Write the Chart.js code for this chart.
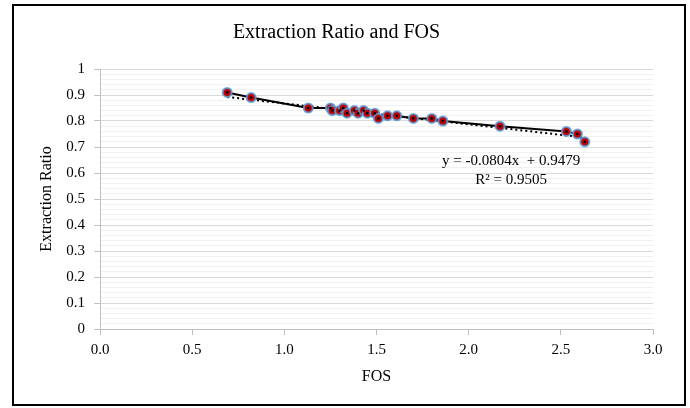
<!DOCTYPE html>
<html>
<head>
<meta charset="utf-8">
<script src="https://cdn.jsdelivr.net/npm/chart.js@4/dist/chart.umd.min.js"></script>
<style>
    html, body { margin: 0; padding: 0; background: #fff; }
    #wrap { width: 690px; height: 408px; }
</style>
</head>
<body>
<div id="wrap"><canvas id="fosChart" width="690" height="408"></canvas></div>
<script>
// Data
const fosValues = [0.69, 0.82, 1.13, 1.25, 1.26, 1.30, 1.32, 1.34, 1.38, 1.40, 1.43, 1.45, 1.49, 1.51, 1.56, 1.61, 1.70, 1.80, 1.86, 2.17, 2.53, 2.59, 2.63];
const ratioValues = [0.91, 0.89, 0.85, 0.85, 0.84, 0.84, 0.85, 0.83, 0.84, 0.83, 0.84, 0.83, 0.83, 0.81, 0.82, 0.82, 0.81, 0.81, 0.80, 0.78, 0.76, 0.75, 0.72];
const xTicks = [0, 0.5, 1, 1.5, 2, 2.5, 3];
const yTicks = [0, 0.1, 0.2, 0.3, 0.4, 0.5, 0.6, 0.7, 0.8, 0.9, 1];

// Linear trendline as printed on the chart
const trendSlope = -0.0804;
const trendIntercept = 0.9479;
const trendR2 = 0.9505;

const SERIF = "'Liberation Serif', 'Times New Roman', serif";

const points = fosValues.map((x, i) => ({ x: x, y: ratioValues[i] }));
const xMin = Math.min(...fosValues);
const xMax = Math.max(...fosValues);
const trendPoints = [
    { x: xMin, y: trendSlope * xMin + trendIntercept },
    { x: xMax, y: trendSlope * xMax + trendIntercept }
];

function isMajor(v) {
    return Math.abs(v * 10 - Math.round(v * 10)) < 1e-6;
}

// Frame around the whole chart + trendline equation text
const framePlugin = {
    id: 'frame',
    afterDraw(chart) {
        const c = chart.ctx;
        c.save();
        c.strokeStyle = '#000';
        c.lineWidth = 2;
        c.strokeRect(13, 5, 672, 400);

        const xs = chart.scales.x, ys = chart.scales.y;
        const tx = xs.getPixelForValue(2.23);
        const ty = ys.getPixelForValue(0.645);
        c.fillStyle = '#000';
        c.font = '15px ' + SERIF;
        c.textAlign = 'center';
        c.textBaseline = 'middle';
        c.fillText('y = ' + trendSlope + 'x  + ' + trendIntercept, tx, ty);
        c.fillText('R² = ' + trendR2, tx, ty + 19);
        c.restore();
    }
};

new Chart(document.getElementById('fosChart'), {
    type: 'scatter',
    data: {
        datasets: [
            {
                label: 'centers',
                data: points,
                showLine: false,
                pointRadius: 1.3,
                pointBackgroundColor: '#000',
                pointBorderWidth: 0,
                order: 0
            },
            {
                label: 'Extraction Ratio',
                data: points,
                showLine: false,
                pointRadius: 4.5,
                pointBackgroundColor: '#c00000',
                pointBorderColor: 'rgba(91, 155, 213, 0.85)',
                pointBorderWidth: 2,
                order: 1
            },
            {
                label: 'line',
                data: points,
                showLine: true,
                borderColor: '#000',
                borderWidth: 2,
                pointRadius: 0,
                order: 2
            },
            {
                label: 'trend',
                data: trendPoints,
                showLine: true,
                borderColor: '#000',
                borderWidth: 2,
                borderDash: [2, 3],
                pointRadius: 0,
                order: 3
            }
        ]
    },
    options: {
        responsive: false,
        animation: false,
        layout: {
            padding: { left: 20, right: 37, top: 10, bottom: 19 }
        },
        plugins: {
            legend: { display: false },
            tooltip: { enabled: false },
            title: {
                display: true,
                text: 'Extraction Ratio and FOS',
                color: '#000',
                font: { family: SERIF, size: 20, weight: 'normal' },
                padding: { top: 11, bottom: 24 }
            }
        },
        scales: {
            x: {
                type: 'linear',
                min: 0,
                max: 3,
                afterBuildTicks(scale) {
                    scale.ticks = xTicks.map(v => ({ value: v }));
                },
                afterFit(scale) { scale.height = 60; },
                ticks: {
                    color: '#000',
                    font: { family: SERIF, size: 15 },
                    padding: 6,
                    callback: v => Number(v).toFixed(1)
                },
                grid: {
                    drawOnChartArea: false,
                    drawTicks: true,
                    tickLength: 6,
                    tickColor: '#bfbfbf'
                },
                border: { color: '#bfbfbf', width: 1 },
                title: {
                    display: true,
                    text: 'FOS',
                    color: '#000',
                    font: { family: SERIF, size: 16 },
                    padding: { top: 0, bottom: 3 }
                }
            },
            y: {
                type: 'linear',
                min: 0,
                max: 1,
                afterBuildTicks(scale) {
                    const list = [];
                    for (let i = 0; i < yTicks.length - 1; i++) {
                        for (let k = 0; k < 5; k++) {
                            list.push({ value: yTicks[i] + (yTicks[i + 1] - yTicks[i]) * k / 5 });
                        }
                    }
                    list.push({ value: yTicks[yTicks.length - 1] });
                    scale.ticks = list;
                },
                afterFit(scale) { scale.width = 80; },
                ticks: {
                    color: '#000',
                    font: { family: SERIF, size: 15 },
                    padding: 9,
                    autoSkip: false,
                    callback: v => {
                        if (!isMajor(v)) return '';
                        const r = Math.round(v * 10) / 10;
                        return (r === 0 || r === 1) ? String(r) : r.toFixed(1);
                    }
                },
                grid: {
                    tickLength: 6,
                    color: ctx => isMajor(ctx.tick.value) ? '#d9d9d9' : '#f0f0f0',
                    tickColor: ctx => isMajor(ctx.tick.value) ? '#bfbfbf' : 'rgba(0,0,0,0)'
                },
                border: { color: '#bfbfbf', width: 1 },
                title: {
                    display: true,
                    text: 'Extraction Ratio',
                    color: '#000',
                    font: { family: SERIF, size: 16 },
                    padding: { top: 17, bottom: 0 }
                }
            }
        }
    },
    plugins: [framePlugin]
});
</script>
</body>
</html>
